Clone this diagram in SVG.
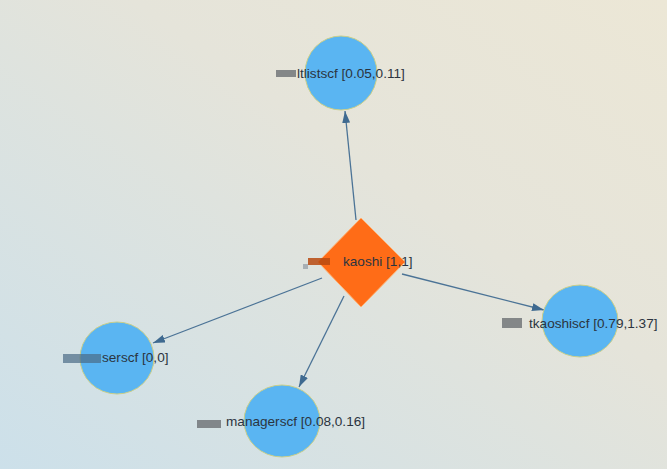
<svg xmlns="http://www.w3.org/2000/svg" width="667" height="469" viewBox="0 0 667 469">
<defs>
<linearGradient id="bg" x1="1" y1="0" x2="0" y2="1">
<stop offset="0" stop-color="#ece7d6"/>
<stop offset="0.4" stop-color="#e5e4da"/>
<stop offset="1" stop-color="#cce0ea"/>
</linearGradient>
<marker id="arr" viewBox="0 0 12 8" refX="12" refY="4" markerWidth="12" markerHeight="8" markerUnits="userSpaceOnUse" orient="auto">
<path d="M0,0 L12,4 L0,8 Z" fill="#3f6a90"/>
</marker>
<style>
.edge{stroke:#4b7396;stroke-width:1.3;fill:none}
.circ{fill:#5ab5f2;stroke:#c9cf8a;stroke-width:1}
.dia{fill:#ff6c17;stroke:#ffb070;stroke-width:1}
.lbl{font-family:"Liberation Sans",Arial,sans-serif;font-size:13.6px;fill:#2b3440}
.red{fill:#6b6f73}
</style>
</defs>
<rect width="667" height="469" fill="url(#bg)"/>
<g id="connectors">
<line class="edge" x1="356" y1="220" x2="345" y2="111" marker-end="url(#arr)"/>
<line class="edge" x1="402" y1="274" x2="544" y2="310" marker-end="url(#arr)"/>
<line class="edge" x1="322" y1="278" x2="153" y2="343" marker-end="url(#arr)"/>
<line class="edge" x1="344" y1="296" x2="299" y2="387" marker-end="url(#arr)"/>
</g>
<g id="node-ltlistscf">
<ellipse class="circ" cx="341" cy="73" rx="36" ry="37"/>
<rect class="red" x="276" y="70" width="20" height="7" opacity="0.8"/>
<text class="lbl" x="297" y="78">ltlistscf [0.05,0.11]</text>
</g>
<g id="node-kaoshi">
<polygon class="dia" points="361,218 405,262 361,307 318,262"/>
<rect x="308" y="258" width="22" height="7" fill="#b84a10" opacity="0.85"/>
<rect x="303" y="264" width="5" height="5" fill="#9aa3aa" opacity="0.8"/>
<text class="lbl" x="343" y="266">kaoshi [1,1]</text>
</g>
<g id="node-tkaoshiscf">
<ellipse class="circ" cx="580" cy="321" rx="38" ry="36"/>
<rect class="red" x="502" y="318" width="20" height="10" opacity="0.8"/>
<text class="lbl" x="529" y="328">tkaoshiscf [0.79,1.37]</text>
</g>
<g id="node-serscf">
<ellipse class="circ" cx="117" cy="358" rx="37" ry="36"/>
<rect x="63" y="354" width="38" height="9" fill="#4a6b86" opacity="0.7"/>
<text class="lbl" x="102" y="362">serscf [0,0]</text>
</g>
<g id="node-managerscf">
<ellipse class="circ" cx="282" cy="421" rx="38" ry="36"/>
<rect class="red" x="197" y="420" width="24" height="8" opacity="0.8"/>
<text class="lbl" x="226" y="426">managerscf [0.08,0.16]</text>
</g>
</svg>
